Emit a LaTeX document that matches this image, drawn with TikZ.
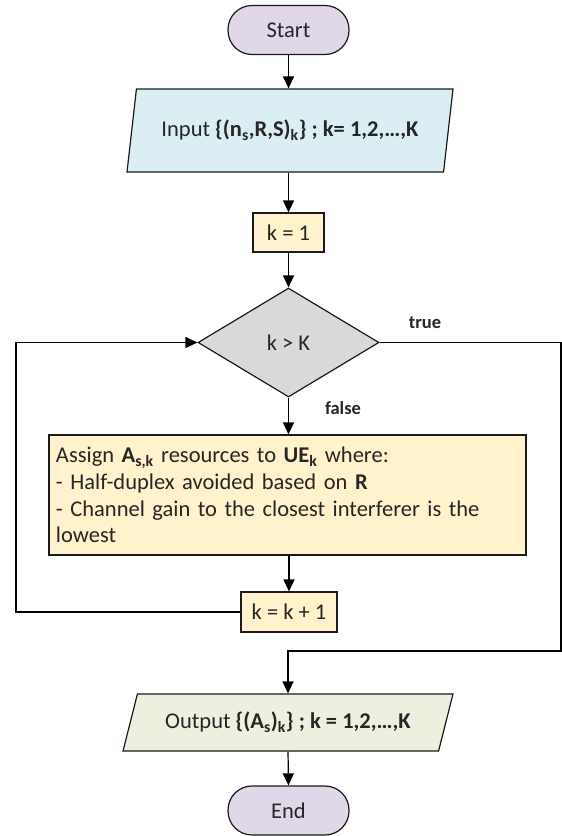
\documentclass[tikz,border=0pt]{standalone}
\usepackage{fontspec}
\setmainfont{Carlito}
\usetikzlibrary{arrows.meta,shapes.geometric}
\definecolor{termfill}{HTML}{E0D8E8}
\definecolor{infill}{HTML}{DAEEF3}
\definecolor{boxfill}{HTML}{FFF2CC}
\definecolor{decfill}{HTML}{D9D9D9}
\definecolor{outfill}{HTML}{EBF1DE}
\definecolor{edge}{HTML}{1A1A1A}
\tikzset{
  base/.style={draw=edge, line width=1.2pt, inner sep=0pt, font=\fontsize{22.5}{26.7}\selectfont, text=black!85},
  term/.style={base, fill=termfill, rounded corners=24pt, minimum width=121pt, minimum height=49pt},
  iobox/.style={base, trapezium, trapezium stretches body, minimum height=#1},
  procbox/.style={base, fill=boxfill, rectangle},
  dec/.style={base, diamond, fill=decfill, minimum width=181pt, minimum height=109pt},
  arr/.style={draw=black, line width=1.2pt, -{Triangle[width=11pt,length=12pt]}},
  lbl/.style={font=\fontsize{18.5}{22}\bfseries\selectfont, text=black!85, inner sep=0pt}
}
\begin{document}
\begin{tikzpicture}[x=1pt,y=-1pt]
\useasboundingbox (0,0) rectangle (562,836);
\node[term] (start) at (288.5,30) {Start};
\node[iobox=83pt, fill=infill, trapezium left angle=65.4, trapezium right angle=114.6, minimum width=326pt] (in) at (290,130.5)
  {Input \textbf{\{(n\textsubscript{s},R,S)\textsubscript{k}\} ; k= 1,2,…,K}};
\node[procbox, minimum width=71pt, minimum height=39pt] (k1) at (288.5,232.5) {k = 1};
\node[dec] (d) at (288.5,342.5) {k > K};
\node[procbox, minimum width=477pt, minimum height=120pt, text width=463pt, align=left] (p) at (287.5,495)
  {Assign \textbf{A\textsubscript{s,k}} resources to \textbf{UE\textsubscript{k}} where:\\
   - Half-duplex avoided based on \textbf{R}\\
   - Channel gain to the closest interferer is the\\
   lowest};
\node[procbox, minimum width=96pt, minimum height=40pt] (kk) at (289,612) {k = k + 1};
\node[iobox=57pt, fill=outfill, trapezium left angle=55, trapezium right angle=125, minimum width=330pt] (out) at (288,722.5)
  {Output \textbf{\{(A\textsubscript{s})\textsubscript{k}\} ; k = 1,2,…,K}};
\node[term] (end) at (288.5,810.5) {End};
\node[lbl] (tl) at (425,323) {true};
\node[lbl] (fl) at (343,408) {false};
\coordinate (lx) at (16,0);
\coordinate (rx) at (561,0);
\coordinate (by) at (0,651);
\draw[arr] (start.south) -- (start.south |- in.north);
\draw[arr] (k1.north |- in.south) -- (k1.north);
\draw[arr] (k1.south) -- (d.north);
\draw[arr] (d.south) -- (p.north -| d.south);
\draw[arr] (kk.north |- p.south) -- (kk.north);
\draw[arr] (kk.west) -- (kk.west -| lx) |- (d.west);
\draw[arr] (d.east) -- (d.east -| rx) -- (rx |- by) -- (by -| out.north) -- (out.north);
\draw[arr] (out.south) -- (end.north);
\end{tikzpicture}
\end{document}
